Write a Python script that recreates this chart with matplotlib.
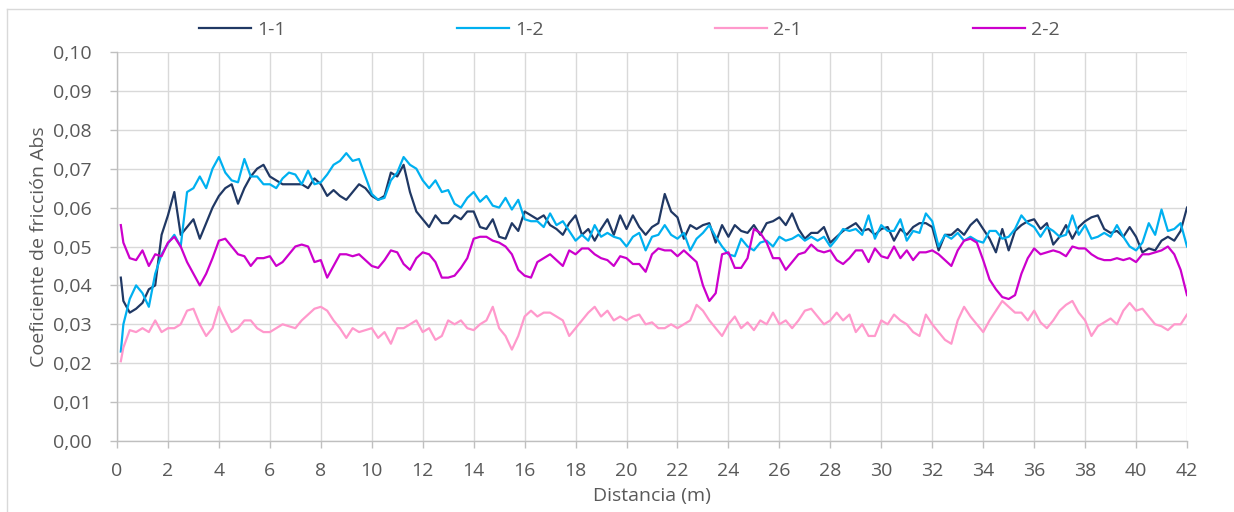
import matplotlib
matplotlib.use("Agg")
import matplotlib.pyplot as plt
from matplotlib.lines import Line2D
from matplotlib.ticker import FuncFormatter, MultipleLocator
import numpy as np

plt.rcParams['font.family'] = ['Open Sans', 'DejaVu Sans']

# distance grid (m): first reading at 0.15 m, then every 0.25 m up to 42 m
distancia = np.concatenate([[0.15], np.arange(0.25, 42.001, 0.25)])

# values, four per metre (x.00, x.25, x.50, x.75)
s11 = [0.042, 0.036, 0.033, 0.034,
       0.0355, 0.039, 0.040, 0.053,
       0.058, 0.064, 0.053, 0.055,
       0.057, 0.052, 0.056, 0.060,
       0.063, 0.065, 0.066, 0.061,
       0.065, 0.068, 0.070, 0.071,
       0.068, 0.067, 0.066, 0.066,
       0.066, 0.066, 0.065, 0.0675,
       0.066, 0.063, 0.0645, 0.063,
       0.062, 0.064, 0.066, 0.065,
       0.063, 0.062, 0.063, 0.069,
       0.068, 0.071, 0.064, 0.059,
       0.057, 0.055, 0.058, 0.056,
       0.056, 0.058, 0.057, 0.059,
       0.059, 0.055, 0.0545, 0.057,
       0.0525, 0.052, 0.056, 0.054,
       0.059, 0.058, 0.057, 0.058,
       0.0555, 0.0545, 0.053, 0.056,
       0.058, 0.053, 0.0545, 0.0515,
       0.0545, 0.057, 0.053, 0.058,
       0.0545, 0.058, 0.055, 0.053,
       0.055, 0.056, 0.0635, 0.059,
       0.0575, 0.052, 0.0555, 0.0545,
       0.0555, 0.056, 0.051, 0.0555,
       0.0525, 0.0555, 0.054, 0.0535,
       0.0555, 0.053, 0.056, 0.0565,
       0.0575, 0.0555, 0.0585, 0.0545,
       0.052, 0.0535, 0.0535, 0.055,
       0.051, 0.0525, 0.054, 0.055,
       0.056, 0.054, 0.0545, 0.053,
       0.0545, 0.055, 0.0515, 0.0545,
       0.053, 0.055, 0.056, 0.056,
       0.055, 0.049, 0.053, 0.053,
       0.0545, 0.053, 0.0555, 0.057,
       0.0545, 0.052, 0.0485, 0.0545,
       0.049, 0.054, 0.0555, 0.0565,
       0.057, 0.0545, 0.056, 0.0505,
       0.0525, 0.0555, 0.052, 0.055,
       0.0565, 0.0575, 0.058, 0.0545,
       0.0535, 0.054, 0.0525, 0.055,
       0.0525, 0.0485, 0.0495, 0.049,
       0.0515, 0.0525, 0.0515, 0.054,
       0.060]

s12 = [0.023, 0.030, 0.0365, 0.040,
       0.038, 0.0345, 0.043, 0.048,
       0.0508, 0.053, 0.050, 0.064,
       0.065, 0.068, 0.065, 0.070,
       0.073, 0.069, 0.067, 0.0665,
       0.0725, 0.068, 0.068, 0.066,
       0.066, 0.065, 0.0675, 0.069,
       0.0685, 0.066, 0.0695, 0.066,
       0.0665, 0.0685, 0.071, 0.072,
       0.074, 0.072, 0.0725, 0.068,
       0.0635, 0.062, 0.0625, 0.067,
       0.069, 0.073, 0.071, 0.070,
       0.067, 0.065, 0.067, 0.064,
       0.0645, 0.061, 0.060, 0.0625,
       0.064, 0.0615, 0.063, 0.0605,
       0.060, 0.0625, 0.0595, 0.062,
       0.057, 0.0565, 0.0565, 0.055,
       0.0585, 0.0555, 0.0565, 0.054,
       0.0515, 0.053, 0.0515, 0.0555,
       0.0525, 0.0535, 0.0525, 0.052,
       0.050, 0.0525, 0.0535, 0.049,
       0.0525, 0.053, 0.0555, 0.053,
       0.052, 0.0535, 0.049, 0.052,
       0.0535, 0.0555, 0.0525, 0.050,
       0.048, 0.0475, 0.052, 0.050,
       0.049, 0.051, 0.0515, 0.050,
       0.0525, 0.0515, 0.052, 0.053,
       0.0515, 0.0525, 0.0515, 0.0525,
       0.050, 0.052, 0.0545, 0.054,
       0.0545, 0.053, 0.058, 0.052,
       0.0555, 0.054, 0.054, 0.057,
       0.0515, 0.054, 0.0535, 0.0585,
       0.0565, 0.050, 0.053, 0.052,
       0.0535, 0.0515, 0.0525, 0.0515,
       0.051, 0.054, 0.054, 0.052,
       0.0525, 0.0545, 0.058, 0.056,
       0.055, 0.0525, 0.055, 0.054,
       0.0525, 0.053, 0.058, 0.053,
       0.0555, 0.052, 0.0525, 0.0535,
       0.0525, 0.0555, 0.0525, 0.050,
       0.049, 0.051, 0.056, 0.053,
       0.0595, 0.054, 0.0545, 0.056,
       0.050]

s21 = [0.0205, 0.024, 0.0285, 0.028,
       0.029, 0.028, 0.031, 0.028,
       0.029, 0.029, 0.030, 0.0335,
       0.034, 0.030, 0.027, 0.029,
       0.0345, 0.031, 0.028, 0.029,
       0.031, 0.031, 0.029, 0.028,
       0.028, 0.029, 0.030, 0.0295,
       0.029, 0.031, 0.0325, 0.034,
       0.0345, 0.0335, 0.031, 0.029,
       0.0265, 0.029, 0.028, 0.0285,
       0.029, 0.0265, 0.028, 0.025,
       0.029, 0.029, 0.030, 0.031,
       0.028, 0.029, 0.026, 0.027,
       0.031, 0.030, 0.031, 0.029,
       0.0285, 0.030, 0.031, 0.0345,
       0.029, 0.027, 0.0235, 0.027,
       0.032, 0.0335, 0.032, 0.033,
       0.033, 0.032, 0.031, 0.027,
       0.029, 0.031, 0.033, 0.0345,
       0.032, 0.0335, 0.031, 0.032,
       0.031, 0.032, 0.0325, 0.030,
       0.0305, 0.029, 0.029, 0.030,
       0.029, 0.030, 0.031, 0.035,
       0.0335, 0.031, 0.029, 0.027,
       0.030, 0.032, 0.029, 0.0305,
       0.0285, 0.031, 0.030, 0.033,
       0.030, 0.031, 0.029, 0.031,
       0.0335, 0.034, 0.032, 0.030,
       0.031, 0.033, 0.031, 0.0325,
       0.028, 0.030, 0.027, 0.027,
       0.031, 0.030, 0.0325, 0.031,
       0.030, 0.028, 0.027, 0.0325,
       0.030, 0.028, 0.026, 0.025,
       0.031, 0.0345, 0.032, 0.030,
       0.028, 0.031, 0.0335, 0.036,
       0.0345, 0.033, 0.033, 0.031,
       0.0335, 0.0305, 0.029, 0.031,
       0.0335, 0.035, 0.036, 0.033,
       0.031, 0.027, 0.0295, 0.0305,
       0.0315, 0.030, 0.0335, 0.0355,
       0.0335, 0.034, 0.032, 0.030,
       0.0295, 0.0285, 0.030, 0.030,
       0.0325]

s22 = [0.0555, 0.051, 0.047, 0.0465,
       0.049, 0.045, 0.048, 0.0475,
       0.051, 0.0525, 0.050, 0.046,
       0.043, 0.040, 0.043, 0.047,
       0.0515, 0.052, 0.050, 0.048,
       0.0475, 0.045, 0.047, 0.047,
       0.0475, 0.045, 0.046, 0.048,
       0.050, 0.0505, 0.050, 0.046,
       0.0465, 0.042, 0.045, 0.048,
       0.048, 0.0475, 0.048, 0.0465,
       0.045, 0.0445, 0.0465, 0.049,
       0.0485, 0.0455, 0.044, 0.047,
       0.0485, 0.048, 0.046, 0.042,
       0.042, 0.0425, 0.0445, 0.047,
       0.052, 0.0525, 0.0525, 0.0515,
       0.051, 0.050, 0.048, 0.044,
       0.0425, 0.042, 0.046, 0.047,
       0.048, 0.0465, 0.045, 0.049,
       0.048, 0.0495, 0.0495, 0.048,
       0.047, 0.0465, 0.045, 0.0475,
       0.047, 0.0455, 0.0455, 0.0435,
       0.048, 0.0495, 0.049, 0.049,
       0.0475, 0.049, 0.0475, 0.046,
       0.040, 0.036, 0.038, 0.048,
       0.0485, 0.0445, 0.0445, 0.047,
       0.0545, 0.0535, 0.051, 0.047,
       0.047, 0.044, 0.046, 0.048,
       0.0485, 0.0505, 0.049, 0.0485,
       0.049, 0.0465, 0.0455, 0.047,
       0.049, 0.049, 0.046, 0.0495,
       0.0475, 0.047, 0.050, 0.047,
       0.049, 0.0465, 0.0485, 0.0485,
       0.049, 0.048, 0.0465, 0.045,
       0.049, 0.0515, 0.052, 0.051,
       0.0465, 0.0415, 0.039, 0.037,
       0.0365, 0.0375, 0.043, 0.047,
       0.0495, 0.048, 0.0485, 0.049,
       0.0485, 0.0475, 0.050, 0.0495,
       0.0495, 0.048, 0.047, 0.0465,
       0.0465, 0.047, 0.0465, 0.047,
       0.046, 0.048, 0.048, 0.0485,
       0.049, 0.050, 0.048, 0.044,
       0.0375]

labels = ["1-1", "1-2", "2-1", "2-2"]
colors = ["#203864", "#00B0F0", "#FF99CC", "#CC00CC"]
series = [s11, s12, s21, s22]

W, H = 1234, 512
FS = 14
fig = plt.figure(figsize=(W / 100, H / 100), dpi=100)
ax = fig.add_axes([117 / W, 1 - 441 / H, (1187 - 117) / W, (441 - 52) / H])

for vals, lab, c in zip(series, labels, colors):
    ax.plot(distancia, vals, color=c, lw=1.6, label=lab)

ax.set_xlim(0, 42)
ax.set_ylim(0, 0.10)
ax.xaxis.set_major_locator(MultipleLocator(2))
ax.yaxis.set_major_locator(MultipleLocator(0.01))
ax.yaxis.set_major_formatter(FuncFormatter(lambda v, p: f"{v:.2f}".replace(".", ",")))
ax.grid(True, color="#D9D9D9", lw=1.0)
ax.set_axisbelow(True)
for side in ["top", "right"]:
    ax.spines[side].set_visible(False)
for side in ["left", "bottom"]:
    ax.spines[side].set_color("#BFBFBF")
    ax.spines[side].set_linewidth(1.0)
ax.tick_params(colors="#BFBFBF", labelcolor="#595959", labelsize=FS, length=5, width=1.0)
ax.tick_params(axis="x", pad=10)
ax.tick_params(axis="y", pad=13)

ax.set_xlabel("Distancia (m)", fontsize=FS, color="#595959", labelpad=5)
ax.set_ylabel("Coeficiente de fricción Abs", fontsize=FS, color="#595959", labelpad=4)

fig.legend(loc="center", bbox_to_anchor=(0.51, 1 - 30 / H), ncol=4, frameon=False,
           fontsize=FS, handlelength=2.68, handletextpad=0.31, columnspacing=8.8,
           labelcolor="#595959")

# outer chart frame (top and left edges visible)
fig.add_artist(Line2D([7 / W, 1], [1 - 9 / H, 1 - 9 / H], color="#D9D9D9", lw=1.0))
fig.add_artist(Line2D([7 / W, 7 / W], [0, 1 - 9 / H], color="#D9D9D9", lw=1.0))

fig.savefig("out.png", dpi=100)
